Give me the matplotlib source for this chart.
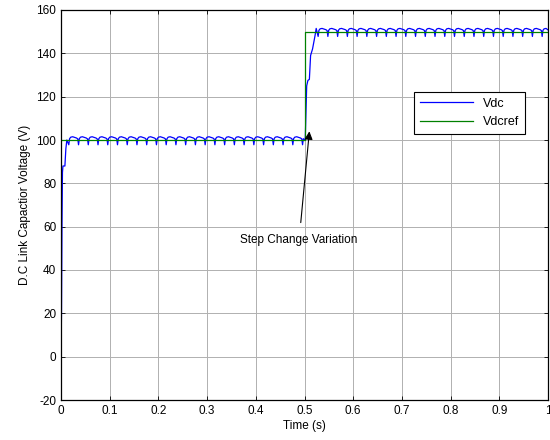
import numpy as np
import matplotlib
matplotlib.use("Agg")
import matplotlib.pyplot as plt

plt.rcParams['font.family'] = ['Liberation Sans', 'DejaVu Sans']
plt.rcParams['axes.unicode_minus'] = False

# --- data ---
# start-up transient of Vdc (time s, volts)
startup_t = [0.0, 0.001, 0.002, 0.003, 0.004, 0.008, 0.010, 0.012]
startup_v = [0.0, 20.0, 60.0, 85.0, 88.0, 88.0, 96.0, 100.0]
# step transient of Vdc after reference change
step_t = [0.500, 0.5015, 0.5045, 0.507, 0.510, 0.5125, 0.5165, 0.519, 0.5215, 0.524]
step_v = [100.0, 100.0, 125.0, 127.5, 128.0, 139.0, 142.0, 145.0, 148.0, 151.5]
# one ripple period template (fraction of period, offset in volts)
ripple_frac = [0.00, 0.08, 0.20, 0.40, 0.60, 0.80, 0.92]
ripple_off = [-2.2, 0.6, 1.3, 1.5, 1.2, 0.9, 0.5]
ripple_period = 0.02
# reference voltage
ref_t = [0.0, 0.5, 0.5, 1.0]
ref_v = [100.0, 100.0, 150.0, 150.0]

level1, level2 = 100.0, 150.0

def plateau(t0, t1, level):
    ts, vs = [], []
    k = 0
    while True:
        base = t0 + k * ripple_period
        if base >= t1:
            break
        for f, o in zip(ripple_frac, ripple_off):
            tt = base + f * ripple_period
            if tt < t1:
                ts.append(tt)
                vs.append(level + o)
        k += 1
    return ts, vs

p1t, p1v = plateau(0.016, 0.500, level1)
p2t, p2v = plateau(0.528, 1.0, level2)

vdc_t = startup_t + p1t + step_t + p2t + [1.0]
vdc_v = startup_v + p1v + step_v + p2v + [level2 + 0.8]

fig = plt.figure(figsize=(5.5, 4.4), dpi=100)
ax = fig.add_axes([61/550, 40/440, 487/550, 390/440])

ax.plot(vdc_t, vdc_v, color='#0000ff', lw=0.9, label='Vdc')
ax.plot(ref_t, ref_v, color='#008000', lw=0.9, label='Vdcref')

ax.set_xlim(0, 1)
ax.set_ylim(-20, 160)
ax.set_xticks(np.arange(0, 1.01, 0.1))
ax.set_xticklabels(['0', '0.1', '0.2', '0.3', '0.4', '0.5', '0.6', '0.7', '0.8', '0.9', '1'])
ax.set_yticks(np.arange(-20, 161, 20))
ax.grid(True, color='#b0b0b0', lw=0.7)
ax.tick_params(direction='in', length=3, labelsize=8.5, top=True, right=True, width=0.6)
for s in ax.spines.values():
    s.set_linewidth(0.9)
ax.set_xlabel('Time (s)', fontsize=8.5, labelpad=2)
ax.set_ylabel('D.C Link Capactior Voltage (V)', fontsize=8.5, labelpad=4)

ax.annotate('Step Change Variation', xy=(0.510, 104), xytext=(0.489, 54),
            ha='center', va='center', fontsize=8.5,
            arrowprops=dict(arrowstyle='-|>', color='k', lw=0.8,
                            mutation_scale=12, shrinkA=6, shrinkB=0))

leg = ax.legend(loc='upper left', bbox_to_anchor=(0.712, 0.807), fontsize=9,
                frameon=True, fancybox=False, framealpha=1, edgecolor='k',
                handlelength=4.2, borderpad=0.5, labelspacing=0.5)
leg.get_frame().set_linewidth(0.8)

fig.savefig('out.png', dpi=100)
